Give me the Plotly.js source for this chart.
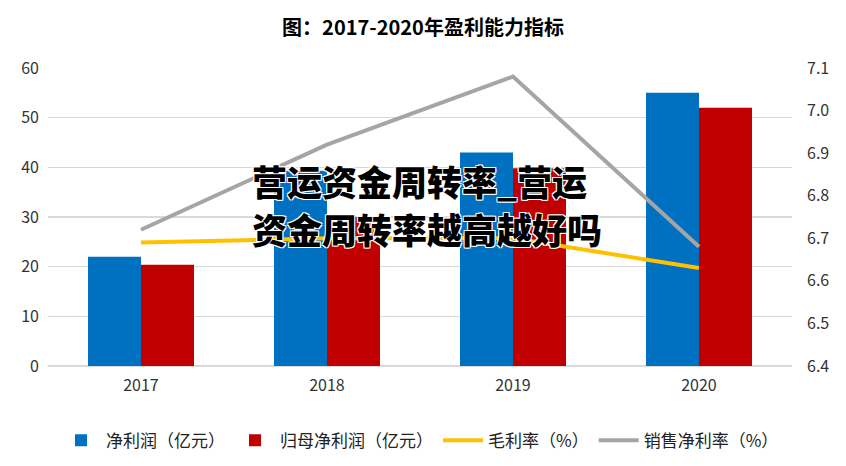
<!DOCTYPE html>
<html>
<head>
<meta charset="utf-8">
<script src="https://cdn.plot.ly/plotly-3.0.1.min.js"></script>
<style>
html,body{margin:0;padding:0;background:#fff;}
#chart{width:846px;height:466px;}
</style>
</head>
<body>
<div id="chart"></div>
<script>
const years = ['2017', '2018', '2019', '2020'];
const netProfit = [22, 39.3, 43, 55];
const parentNetProfit = [20.4, 30, 39.8, 52];
const grossMargin = [6.69, 6.70, 6.70, 6.63];
const netMargin = [6.72, 6.92, 7.08, 6.68];
const leftTicks = [0, 10, 20, 30, 40, 50, 60];
const rightTicks = [6.4, 6.5, 6.6, 6.7, 6.8, 6.9, 7.0, 7.1];
const rightTickText = ['6.4', '6.5', '6.6', '6.7', '6.8', '6.9', '7.0', '7.1'];
const watermarkLines = ['营运资金周转率_营运', '资金周转率越高越好吗'];

const FONT = '"Noto Sans CJK SC", "Noto Sans", sans-serif';

const traces = [
  {type: 'bar', name: '净利润（亿元）', x: years, y: netProfit,
   marker: {color: '#0070C0'}, yaxis: 'y'},
  {type: 'bar', name: '归母净利润（亿元）', x: years, y: parentNetProfit,
   marker: {color: '#C00000'}, yaxis: 'y'},
  {type: 'scatter', mode: 'lines', name: '毛利率（%）', x: years, y: grossMargin,
   line: {color: '#FFC000', width: 4}, yaxis: 'y2'},
  {type: 'scatter', mode: 'lines', name: '销售净利率（%）', x: years, y: netMargin,
   line: {color: '#A5A5A5', width: 4}, yaxis: 'y2'}
];

const wmFont = {family: FONT, size: 35, color: '#000', weight: 900,
  shadow: '-1px -1px 0 #fff, 1px -1px 0 #fff, -1px 1px 0 #fff, 1px 1px 0 #fff'};

const layout = {
  width: 846, height: 466,
  margin: {l: 48, r: 54, t: 68, b: 100, autoexpand: false},
  paper_bgcolor: '#fff', plot_bgcolor: '#fff',
  font: {family: FONT, color: '#333', size: 16},
  title: {text: '图：2017-2020年盈利能力指标', x: 0.5, xanchor: 'center', y: 0.94, yanchor: 'middle',
          font: {family: FONT, size: 20, color: '#000', weight: 'bold'}},
  barmode: 'group', bargap: 0.43, bargroupgap: 0,
  showlegend: true,
  legend: {orientation: 'h', x: 0.5, xanchor: 'center', y: -0.19, yanchor: 'top',
           font: {family: FONT, size: 17, color: '#222'}, itemwidth: 40, traceorder: 'normal'},
  xaxis: {type: 'category', showgrid: false, zeroline: false, showline: false, ticks: '',
          ticklabelstandoff: 8,
          tickfont: {family: FONT, size: 16, color: '#333'}},
  yaxis: {range: [0, 60], tickvals: leftTicks, showgrid: true, gridcolor: '#d9d9d9', gridwidth: 1.5,
          zeroline: true, zerolinecolor: '#d9d9d9', zerolinewidth: 1.5, showline: false, ticks: '',
          ticklabelstandoff: 8,
          tickfont: {family: FONT, size: 16, color: '#333'}},
  yaxis2: {range: [6.4, 7.1], tickvals: rightTicks, ticktext: rightTickText, overlaying: 'y', side: 'right',
           showgrid: false, zeroline: false, showline: false, ticks: '', ticklabelstandoff: 14,
           tickfont: {family: FONT, size: 16, color: '#333'}},
  annotations: [
    {text: watermarkLines[0], xref: 'paper', yref: 'paper', x: 0.2715, y: 0.624,
     xanchor: 'left', yanchor: 'middle', showarrow: false, font: wmFont},
    {text: watermarkLines[1], xref: 'paper', yref: 'paper', x: 0.2715, y: 0.463,
     xanchor: 'left', yanchor: 'middle', showarrow: false, font: wmFont}
  ]
};

Plotly.newPlot('chart', traces, layout, {displayModeBar: false, staticPlot: true});
</script>
</body>
</html>
